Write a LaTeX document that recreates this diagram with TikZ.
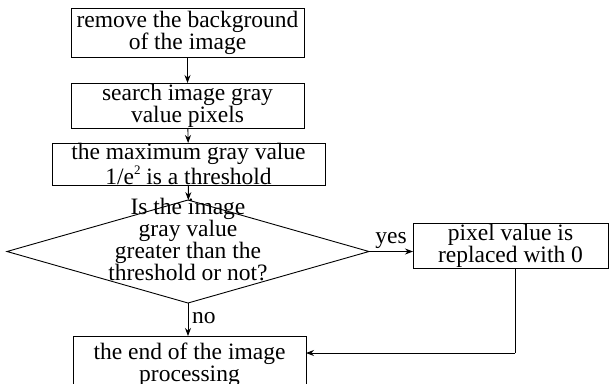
\documentclass[tikz,border=0pt]{standalone}
\usepackage{fontspec}
\setmainfont{Liberation Serif}
\usetikzlibrary{shapes.geometric,arrows.meta}

\newcommand{\supsmall}[1]{\raisebox{0.42em}{\fontsize{13}{13}\selectfont #1}}

\begin{document}
\begin{tikzpicture}[x=1pt,y=-1pt,
  every node/.style={font=\fontsize{23.5}{22}\selectfont, align=center, inner sep=0pt, outer sep=0pt},
  procbox/.style={draw, line width=0.9pt, rectangle},
  flow/.style={draw, line width=0.9pt, -{Stealth[length=8pt,width=6pt]}},
  link/.style={draw, line width=0.9pt}]
\useasboundingbox (0,0) rectangle (609,383);
\fill[white] (0,0) rectangle (609,383);

% process boxes
\node[procbox, minimum width=233, minimum height=49] (bg) at (187.5,32.5)
  {remove the background\\of the image};
\node[procbox, minimum width=233, minimum height=45] (search) at (187.5,105.5)
  {search image gray\\value pixels};
\node[procbox, minimum width=273, minimum height=42] (thr) at (188.5,164)
  {the maximum gray value\\1/e\supsmall{2} is a threshold};

% decision
\node[diamond, draw, line width=0.9pt, minimum width=362, minimum height=103] (dec) at (188,251.5) {};
\node (dectext) at (188,240)
  {Is the image\\gray value\\greater than the\\threshold or not?};

\node[procbox, minimum width=195, minimum height=45] (repl) at (510.5,245.5)
  {pixel value is\\replaced with 0};
\node[procbox, minimum width=233, minimum height=58] (done) at (189.5,365)
  {the end of the image\\processing};

% connectors
\draw[flow] (bg) -- (search);
\draw[flow] (search) -- (thr);
\draw[flow] (thr) -- (dec);
\draw[flow] (dec.east) -- (dec.east -| repl.west)
  node[pos=0.5, above=3pt] (yes) {yes};
\draw[flow] (dec.south) -- (dec.south |- done.north)
  node[pos=0.45, right=4pt] (no) {no};
\coordinate (turn) at (515,353);
\draw[link] (repl.south -| turn) -- (turn);
\draw[flow] (turn) -- (turn -| done.east);
\end{tikzpicture}
\end{document}
